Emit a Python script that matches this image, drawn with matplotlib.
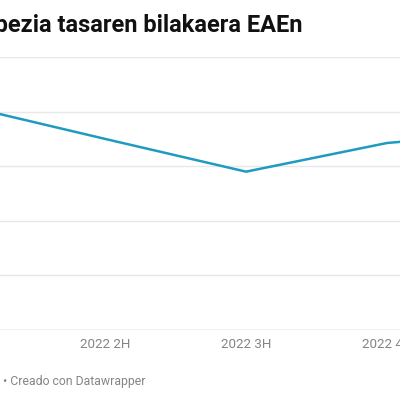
import matplotlib.pyplot as plt

# Data (unemployment rate)
quarters = ["2022 1H", "2022 2H", "2022 3H", "2022 4H", "2023 1H"]
rate = [8.22, 7.0, 5.8, 6.85, 7.3]
y_grid = [0, 2, 4, 6, 8, 10]

LINE_CLR = "#1f9ac0"
GRID_CLR = "#e8e8e8"
TEXT_CLR = "#858585"

plt.rcParams["font.family"] = ["Roboto", "DejaVu Sans"]

fig = plt.figure(figsize=(4, 4), dpi=100)
fig.patch.set_facecolor("white")

# axes wider than the figure: the reference is a crop of a bigger chart
ax = fig.add_axes([0, 0.175, 1, 0.6825])
x = list(range(len(quarters)))
ax.plot(x, rate, color=LINE_CLR, linewidth=1.8, solid_joinstyle="miter", zorder=3)

ax.set_yticks(y_grid)
ax.set_yticklabels([])
ax.set_xticks(x)
ax.set_xticklabels(quarters)
ax.set_xlim(0.255, 3.092)
ax.set_ylim(0, 10)
ax.tick_params(axis="both", length=0)
ax.tick_params(axis="x", pad=5.5, labelsize=9.6, colors=TEXT_CLR)
ax.grid(axis="y", color=GRID_CLR, linewidth=1)
for s in ax.spines.values():
    s.set_visible(False)
ax.axhline(0, color="#d9d9d9", linewidth=1, zorder=2)

fig.text(302 / 400, 1 - 32 / 400, "Langabezia tasaren bilakaera EAEn",
         ha="right", va="baseline", fontsize=17, fontweight="bold", color="#111111")
fig.text(3 / 400, 1 - 385 / 400, "\u2022 Creado con Datawrapper",
         ha="left", va="baseline", fontsize=8.8, color=TEXT_CLR)

fig.savefig("out.png", dpi=100, facecolor="white")
